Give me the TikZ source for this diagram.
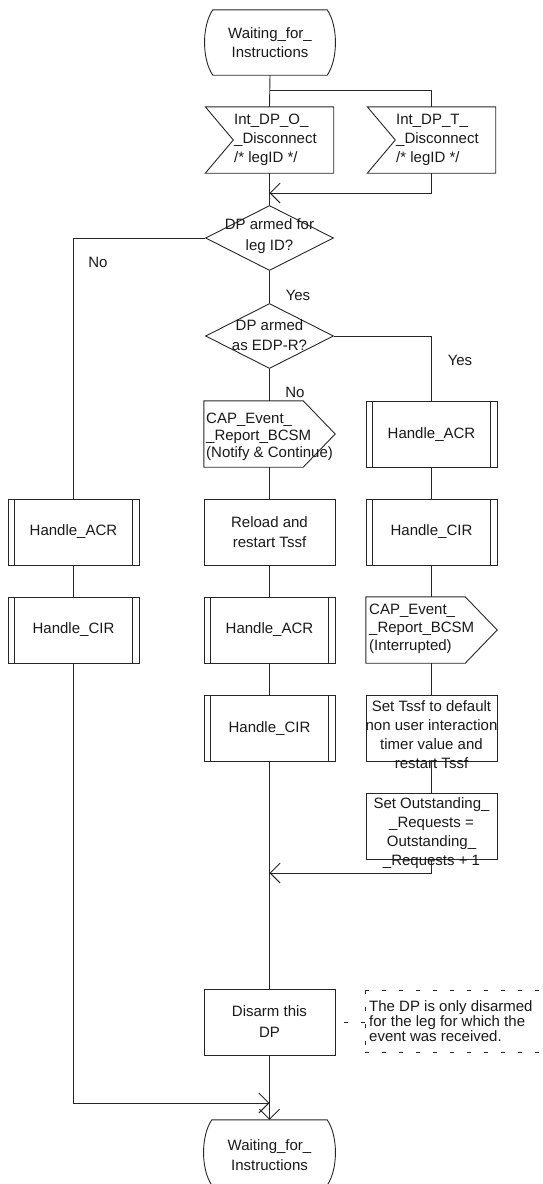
\documentclass[tikz,border=0pt]{standalone}
\usepackage{fontspec}
\setmainfont{Liberation Sans}
\usetikzlibrary{shapes.geometric,arrows.meta,calc}
\newcommand{\sdlstate}[1]{\draw[sdlline] ($(#1.north west)+(8,0)$) -- ($(#1.north east)+(-8,0)$) .. controls ($(#1.north east)+(3,16)$) and ($(#1.south east)+(3,-16)$) .. ($(#1.south east)+(-8,0)$) -- ($(#1.south west)+(8,0)$) .. controls ($(#1.south west)+(-3,-16)$) and ($(#1.north west)+(-3,16)$) .. cycle;}
\newcommand{\sdlinput}[1]{\draw[sdlline] (#1.north west) -- (#1.north east) -- (#1.south east) -- (#1.south west) -- ($(#1.west)+(28,0)$) -- cycle;}
\newcommand{\sdloutput}[1]{\draw[sdlline] (#1.north west) -- ($(#1.north east)+(-32,0)$) -- (#1.east) -- ($(#1.south east)+(-32,0)$) -- (#1.south west) -- cycle;}
\begin{document}
\begin{tikzpicture}[x=1pt,y=-1pt,
  every node/.style={font=\fontsize{15}{18}\selectfont, inner sep=0pt, text=black!90},
  sdlline/.style={draw=black!85, line width=0.9pt},
  arr/.style={sdlline, -{Straight Barb[length=10pt,width=20pt]}},
  sdlbox/.style={rectangle, sdlline, minimum width=131pt, minimum height=66pt, align=center},
  proc/.style={sdlbox, path picture={
     \draw[sdlline] ([xshift=6.5pt]path picture bounding box.north west) -- ([xshift=6.5pt]path picture bounding box.south west);
     \draw[sdlline] ([xshift=-6.5pt]path picture bounding box.north east) -- ([xshift=-6.5pt]path picture bounding box.south east);}},
  frame/.style={rectangle, minimum height=66pt},
  decision/.style={diamond, sdlline, minimum width=128pt, minimum height=65pt},
  txt/.style={align=center},
  ltxt/.style={align=left, anchor=west},
  cdash/.style={sdlline, dash pattern=on 4pt off 13pt},
]
\useasboundingbox (0,0) rectangle (543,1184);

% top state
\node[frame, minimum width=130pt, minimum height=65pt] (st1) at (270,42.5) {};
\sdlstate{st1}
\node[txt, font=\fontsize{15}{19}\selectfont] (st1t) at (270,42.5) {Waiting\_for\_\\Instructions};

% inputs
\node[frame, minimum width=128pt] (in1) at (269.5,140) {};
\sdlinput{in1}
\node[ltxt, font=\fontsize{15}{19}\selectfont] (in1t) at (234,140) {Int\_DP\_O\_\\\_Disconnect\\/* legID */};
\node[frame, minimum width=128pt] (in2) at (431.5,140) {};
\sdlinput{in2}
\node[ltxt, font=\fontsize{15}{19}\selectfont] (in2t) at (396,140) {Int\_DP\_T\_\\\_Disconnect\\/* legID */};

% decisions
\node[decision] (d1) at (269.5,238) {};
\node[txt, font=\fontsize{15}{21}\selectfont] (d1t) at (269.5,236) {DP armed for\\leg ID?};
\node[decision] (d2) at (269.5,336) {};
\node[txt, font=\fontsize{15}{20}\selectfont] (d2t) at (269.5,335) {DP armed\\as EDP-R?};

% left column
\node[proc] (lACR) at (73.5,532) {Handle\_ACR};
\node[proc] (lCIR) at (73.5,630) {Handle\_CIR};

% middle column
\node[frame, minimum width=131pt] (mCAP) at (269.5,434) {};
\sdloutput{mCAP}
\node[ltxt, font=\fontsize{15}{17}\selectfont] (mCAPt) at (206,437) {CAP\_Event\_\\\_Report\_BCSM\\(Notify \& Continue)};
\node[sdlbox, font=\fontsize{15}{20}\selectfont] (mRel) at (269.5,532) {Reload and\\restart Tssf};
\node[proc] (mACR) at (269.5,630) {Handle\_ACR};
\node[proc] (mCIR) at (269.5,728.5) {Handle\_CIR};
\node[sdlbox, font=\fontsize{15}{21}\selectfont] (dis) at (269.5,1022) {Disarm this\\DP};

% right column
\node[proc] (rACR) at (431.5,434.5) {Handle\_ACR};
\node[proc] (rCIR) at (431.5,532) {Handle\_CIR};
\node[frame, minimum width=131pt] (rCAP) at (431.5,630) {};
\sdloutput{rCAP}
\node[ltxt, font=\fontsize{15}{18}\selectfont] (rCAPt) at (369,629) {CAP\_Event\_\\\_Report\_BCSM\\(Interrupted)};
\node[sdlbox] (rTssf) at (431.5,728.5) {};
\node[txt, font=\fontsize{15}{19}\selectfont] (rTssft) at (431.5,735) {Set Tssf to default\\non user interaction\\timer value and\\restart Tssf};
\node[sdlbox] (rOut) at (431.5,826.5) {};
\node[txt, font=\fontsize{15}{19}\selectfont] (rOutt) at (431.5,833) {Set Outstanding\_\\\_Requests =\\Outstanding\_\\\_Requests + 1};

% bottom state
\node[frame, minimum width=131pt, minimum height=65pt] (st2) at (269.5,1152.5) {};
\sdlstate{st2}
\node[txt, font=\fontsize{15}{20}\selectfont] (st2t) at (269.5,1155) {Waiting\_for\_\\Instructions};

% comment
\node[rectangle, anchor=north west, minimum width=180pt, minimum height=62pt] (cmt) at (365,990) {};
\draw[cdash] (cmt.north west) -- (cmt.north east);
\draw[cdash] (cmt.north west) -- (cmt.south west);
\draw[cdash] (cmt.south west) -- (cmt.south east);
\node[ltxt, font=\fontsize{15}{15}\selectfont] (cmtt) at (369,1021) {The DP is only disarmed\\for the leg for which the\\event was received.};
\draw[cdash, dash phase=8.5pt] (dis.east) -- (dis.east -| cmt.west);

% labels
\node (lNo1) at (98,262) {No};
\node (lYes1) at (298,295) {Yes};
\node (lYes2) at (460,360) {Yes};
\node (lNo2) at (295,392) {No};

% junction coordinates
\coordinate (j1) at (270,90);
\coordinate (m1) at (269.5,193);
\coordinate (m2) at (269.5,873);
\coordinate (m3) at (269.5,1103);

% connectors
\draw[sdlline] (st1.south) -- (in1.north);
\draw[sdlline] (j1) -| (in2.north);
\draw[arr] (in2.south) |- (m1);
\draw[sdlline] (in1.south) -- (d1.north);
\draw[sdlline] (d1.west) -| (lACR.north);
\draw[sdlline] (d1.south) -- (d2.north);
\draw[sdlline] (d2.east) -| (rACR.north);
\draw[sdlline] (d2.south) -- (mCAP.north);
\draw[sdlline] (lACR.south) -- (lCIR.north);
\draw[arr] (lCIR.south) |- (m3);
\draw[sdlline] (mCAP.south) -- (mRel.north);
\draw[sdlline] (mRel.south) -- (mACR.north);
\draw[sdlline] (mACR.south) -- (mCIR.north);
\draw[sdlline] (mCIR.south) -- (dis.north);
\draw[arr] (dis.south) -- (st2.north);
\draw[sdlline] (rACR.south) -- (rCIR.north);
\draw[sdlline] (rCIR.south) -- (rCAP.north);
\draw[sdlline] (rCAP.south) -- (rTssf.north);
\draw[sdlline] (rTssf.south) -- (rOut.north);
\draw[arr] (rOut.south) |- (m2);
\end{tikzpicture}
\end{document}
